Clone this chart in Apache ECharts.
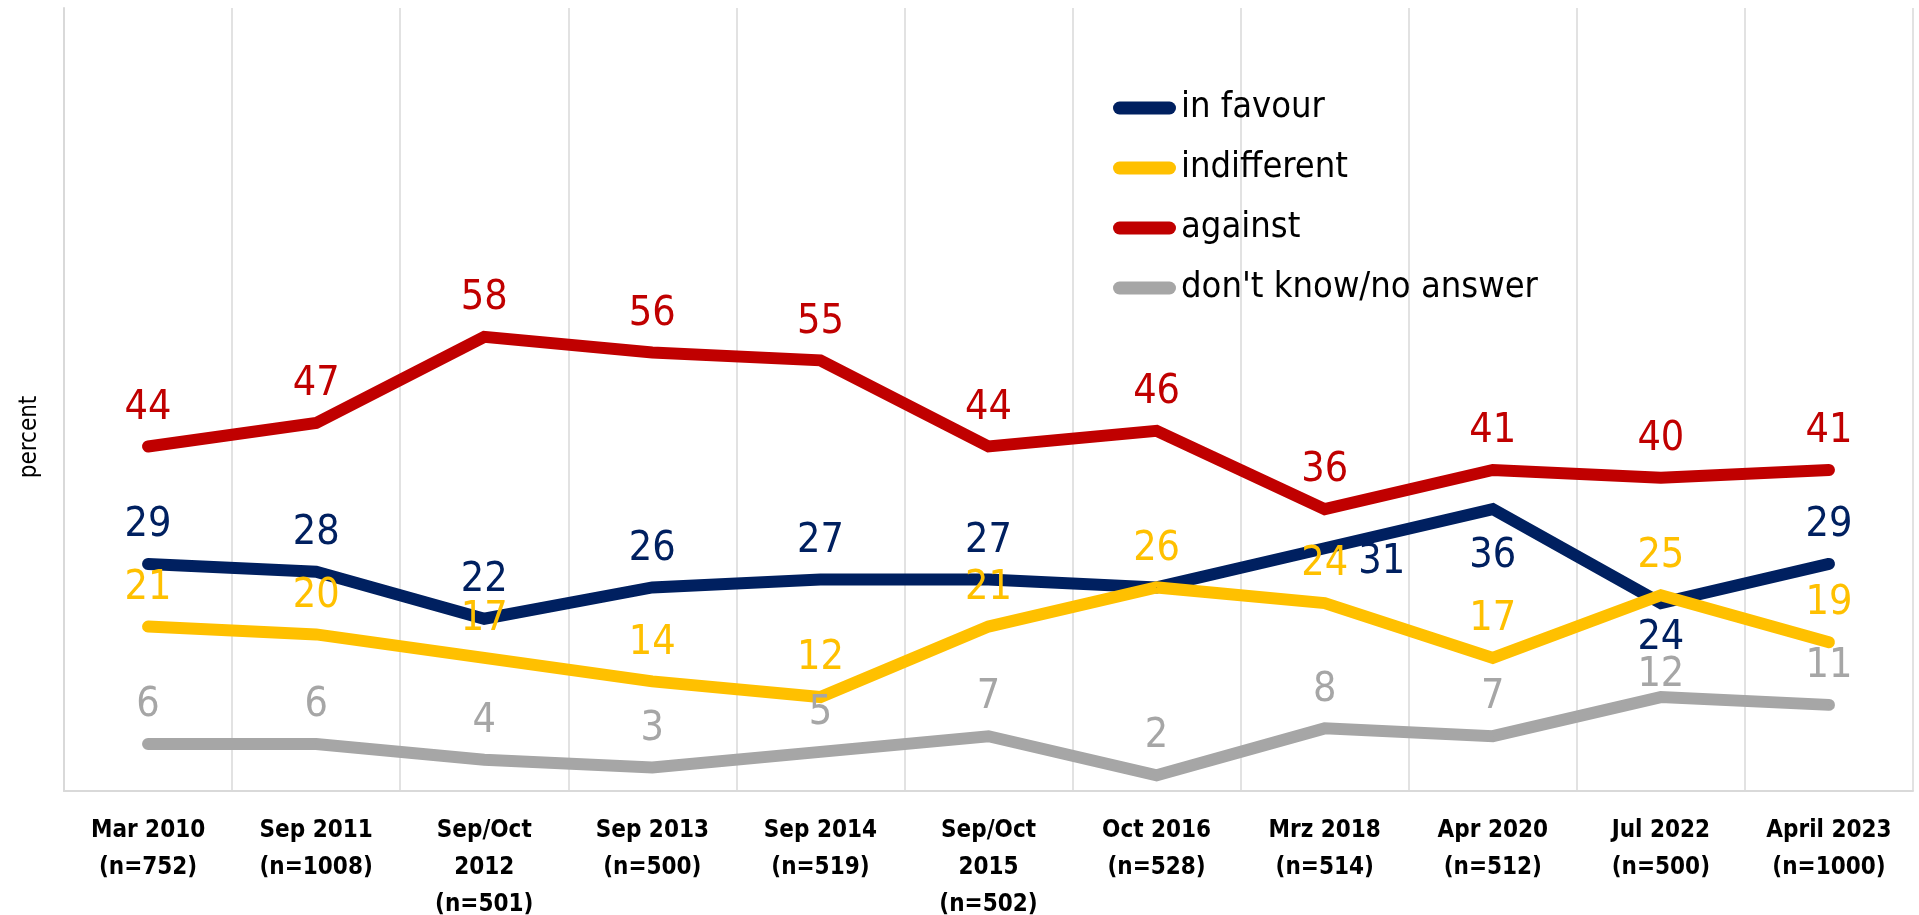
<!DOCTYPE html>
<html>
<head>
<meta charset="utf-8">
<script src="https://cdn.jsdelivr.net/npm/echarts@6/dist/echarts.min.js"></script>
<style>
  html, body { margin: 0; padding: 0; background: #fff; }
  #chart { width: 1919px; height: 915px; }
</style>
</head>
<body>
<div id="chart"></div>
<script>
// ---- data ----
const categories = [
  'Mar 2010\n(n=752)', 'Sep 2011\n(n=1008)', 'Sep/Oct\n2012\n(n=501)', 'Sep 2013\n(n=500)',
  'Sep 2014\n(n=519)', 'Sep/Oct\n2015\n(n=502)', 'Oct 2016\n(n=528)', 'Mrz 2018\n(n=514)',
  'Apr 2020\n(n=512)', 'Jul 2022\n(n=500)', 'April 2023\n(n=1000)'
];
const seriesNames = ['in favour', 'indifferent', 'against', "don't know/no answer"];
const inFavour    = [29, 28, 22, 26, 27, 27, 26, 31, 36, 24, 29];
const indifferent = [21, 20, 17, 14, 12, 21, 26, 24, 17, 25, 19];
const against     = [44, 47, 58, 56, 55, 44, 46, 36, 41, 40, 41];
const dontKnow    = [6, 6, 4, 3, 5, 7, 2, 8, 7, 12, 11];
const yAxisName = 'percent';

// ---- styling ----
const FONT = "'DejaVu Sans Condensed', 'Liberation Sans Narrow', 'DejaVu Sans', sans-serif";
const colors = ['#002060', '#FFC000', '#C00000', '#A6A6A6'];
const gridCol = '#D9D9D9';

// label placement overrides per series (index -> label options)
const labelOverrides = [
  { 6: { show: false },
    7: { position: 'right', distance: 33, offset: [0, 14] },
    8: { position: 'bottom', distance: 26 },
    9: { position: 'bottom', distance: 14 } },
  {},
  {},
  { 9: { distance: 0 } }
];

function buildData(values, overrides) {
  return values.map((v, i) => overrides[i] ? { value: v, label: overrides[i] } : v);
}

const allValues = [inFavour, indifferent, against, dontKnow];
const series = allValues.map((vals, si) => ({
  name: seriesNames[si],
  type: 'line',
  data: buildData(vals, labelOverrides[si]),
  symbol: 'circle',
  symbolSize: 1,
  showSymbol: true,
  itemStyle: { color: colors[si] },
  lineStyle: { color: colors[si], width: 12, cap: 'round', join: 'miter' },
  label: {
    show: true,
    position: 'top',
    distance: 17,
    color: colors[si],
    fontFamily: FONT,
    fontSize: 41,
    lineHeight: 42
  },
  emphasis: { disabled: true },
  animation: false
}));

const chart = echarts.init(document.getElementById('chart'), null, { renderer: 'canvas' });
chart.setOption({
  animation: false,
  backgroundColor: '#fff',
  grid: { left: 64, right: 6, top: 8, bottom: 124, containLabel: false, outerBoundsMode: 'none' },
  legend: {
    orient: 'vertical',
    left: 1108,
    top: 83,
    itemWidth: 63,
    itemHeight: 13,
    itemGap: 20,
    icon: 'path://M6.5,0H56.5A6.5,6.5,0,0,1,56.5,13H6.5A6.5,6.5,0,0,1,6.5,0Z',
    textStyle: { fontFamily: FONT, fontSize: 36, color: '#000', lineHeight: 40 },
    data: seriesNames
  },
  xAxis: {
    type: 'category',
    data: categories,
    boundaryGap: true,
    axisLine: { show: true, lineStyle: { color: gridCol, width: 2 } },
    axisTick: { show: false },
    splitLine: { show: true, lineStyle: { color: gridCol, width: 1.5 } },
    axisLabel: {
      interval: 0,
      margin: 21,
      fontFamily: FONT,
      fontSize: 24,
      fontWeight: 'bold',
      lineHeight: 37,
      color: '#000'
    }
  },
  yAxis: {
    type: 'value',
    min: 0,
    max: 100,
    axisLine: { show: true, lineStyle: { color: gridCol, width: 2 } },
    axisTick: { show: false },
    axisLabel: { show: false },
    splitLine: { show: false }
  },
  graphic: [{
    type: 'text',
    x: 30,
    y: 437,
    rotation: Math.PI / 2,
    style: {
      text: yAxisName,
      fontFamily: FONT,
      fontSize: 24,
      fill: '#000',
      textAlign: 'center',
      textVerticalAlign: 'middle'
    }
  }],
  series: series
});
</script>
</body>
</html>
